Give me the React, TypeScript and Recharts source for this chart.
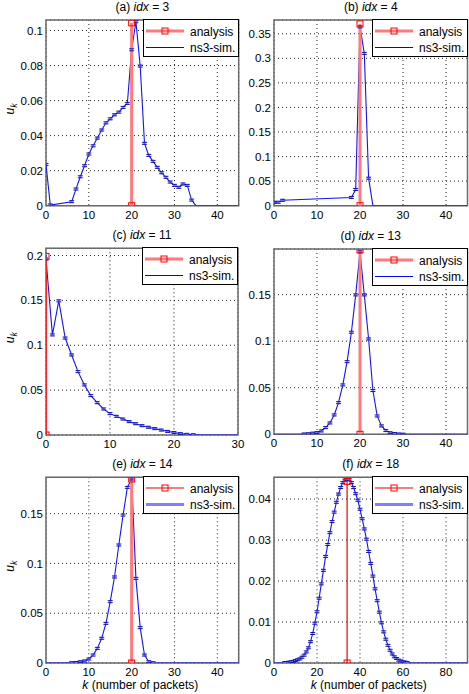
import { CartesianGrid, ComposedChart, Label, Legend, Line, ReferenceArea, XAxis, YAxis } from "recharts";

const FONT = '"Liberation Sans", Arial, Helvetica, sans-serif';

// ns3 simulation values u_k, index = k (null = no sample, line bridges it)
const simA = [
  0.0236, 0.0004, null, null, null, null, 0.0023, 0.0095, 0.0165, 0.0228,
  0.0295, 0.0342, 0.0386, 0.0432, 0.0473, 0.0496, 0.0519, 0.0534, 0.0561, 0.0584,
  0.089, 0.105, 0.0797, 0.0356, 0.0287, 0.0253, 0.0219, 0.0188, 0.0162, 0.0135,
  0.0116, 0.0105, 0.0124, 0.0116, 0.0032, 0, 0, 0, 0, 0, 0, 0, 0, 0, 0, 0,
];
const simB = [
  0.0068, 0.007, 0.011, null, null, null, null, null, null, null,
  null, null, null, null, null, null, null, null, 0.0168, 0.033,
  0.364, 0.31, 0.056, 0, 0, 0, 0, 0, 0, 0, 0, 0, 0, 0, 0, 0, 0, 0, 0, 0, 0, 0, 0, 0, 0, 0,
];
const simC = [
  0.196, 0.1115, 0.1494, 0.108, 0.0892, 0.0706, 0.0558, 0.0439, 0.036, 0.029,
  0.0238, 0.0208, 0.0178, 0.0149, 0.0126, 0.0104, 0.0086, 0.0071, 0.0055, 0.004,
  0.0027, 0.0015, 0.0007, 0.0003, 0, 0, 0, 0, 0, 0, 0,
];
const simD = [
  0, 0, 0, 0, 0, 0, 0, 0.0003, 0.0006, 0.0012,
  0.0018, 0.0036, 0.0072, 0.0122, 0.0208, 0.034, 0.053, 0.078, 0.1096, 0.1497,
  0.196, 0.1497, 0.1024, 0.047, 0.0197, 0.009, 0.004, 0.0017, 0.0008, 0.0003,
  0.0001, 0, 0, 0, 0, 0, 0, 0, 0, 0, 0, 0, 0, 0, 0, 0,
];
const simE = [
  0, 0, 0, 0, 0, 0, 0.0003, 0.0005, 0.0013, 0.002,
  0.004, 0.008, 0.0147, 0.0248, 0.0398, 0.0616, 0.0864, 0.1185, 0.1486, 0.1764,
  0.1848, 0.085, 0.0355, 0.008, 0.0013, 0.0003, 0, 0, 0, 0,
  0, 0, 0, 0, 0, 0, 0, 0, 0, 0, 0, 0, 0, 0, 0, 0,
];
const simF = [
  0, 0, 0, 0, 0, 0.0001, 0.0001, 0.0002, 0.0003, 0.0004,
  0.0006, 0.0008, 0.001, 0.0014, 0.0019, 0.0027, 0.0037, 0.0052, 0.0072, 0.0097,
  0.0125, 0.0158, 0.0193, 0.0226, 0.026, 0.0289, 0.0318, 0.0345, 0.0368, 0.0392,
  0.0412, 0.0428, 0.044, 0.0446, 0.0448, 0.0447, 0.044, 0.0428, 0.0413, 0.0397,
  0.0375, 0.0352, 0.0327, 0.0302, 0.0272, 0.0243, 0.0212, 0.0181, 0.0152, 0.0124,
  0.0098, 0.0076, 0.0058, 0.0043, 0.0031, 0.0022, 0.0015, 0.0011, 0.0007, 0.0005,
  0.0003, 0.0002, 0.0001, 0, 0, 0, 0, 0, 0, 0,
  0, 0, 0, 0, 0, 0, 0, 0, 0, 0,
  0, 0, 0, 0, 0, 0, 0, 0, 0, 0, 0,
];

// analysis: the single non-zero k and its value
const analysisK = [20, 20, 0, 20, 20, 34];
const analysisPeak = [0.1044, 0.37, 0.199, 0.198, 0.1848, 0.0443];

const panelTags = ["a", "b", "c", "d", "e", "f"];
const panelIdx = [3, 4, 11, 13, 14, 18];

const xTicks45 = [0, 10, 20, 30, 40];
const xTicksC = [0, 10, 20, 30];
const xTicksF = [0, 20, 40, 60, 80];
const yTicksA = [0, 0.02, 0.04, 0.06, 0.08, 0.1];
const yTicksB = [0, 0.05, 0.1, 0.15, 0.2, 0.25, 0.3, 0.35];
const yTicksC = [0, 0.05, 0.1, 0.15, 0.2];
const yTicksDE = [0, 0.05, 0.1, 0.15];
const yTicksF = [0, 0.01, 0.02, 0.03, 0.04];

type Stroke = { color: string; width: number };
type Plot = { x0: number; y0: number; x1: number; y1: number };

type PanelSpec = {
  i: number;
  box: { left: number; top: number; width: number; height: number };
  plot: Plot;
  xMax: number;
  xTicks: number[];
  yMax: number;
  yTicks: number[];
  sim: (number | null)[];
  ylabel: boolean;
  xlabel: boolean;
  analysisLine: Stroke;
  legendAnalysis: Stroke;
  legendSim: Stroke;
};

const thickRed = { color: "#ff7a7a", width: 3 };
const thinRed = { color: "#ee0000", width: 1.2 };
const thinBlue = { color: "#0000ff", width: 1 };
const thickBlue = { color: "#7f7fff", width: 3 };

// left column is wider than its plot so edge tick labels are not clipped
const left = { left: 0, width: 252 };
const right = { left: 234, width: 235 };

const panels: PanelSpec[] = [
  {
    i: 0, box: { ...left, top: 0, height: 225 }, plot: { x0: 46, y0: 20, x1: 238.7, y1: 205.7 },
    xMax: 45, xTicks: xTicks45, yMax: 0.106, yTicks: yTicksA, sim: simA, ylabel: true, xlabel: false,
    analysisLine: thickRed, legendAnalysis: thickRed, legendSim: thinBlue,
  },
  {
    i: 1, box: { ...right, top: 0, height: 225 }, plot: { x0: 274, y0: 20, x1: 467.5, y1: 205.7 },
    xMax: 45, xTicks: xTicks45, yMax: 0.378, yTicks: yTicksB, sim: simB, ylabel: false, xlabel: false,
    analysisLine: thickRed, legendAnalysis: thickRed, legendSim: thinBlue,
  },
  {
    i: 2, box: { ...left, top: 225, height: 230 }, plot: { x0: 46, y0: 248.3, x1: 238, y1: 435 },
    xMax: 30, xTicks: xTicksC, yMax: 0.208, yTicks: yTicksC, sim: simC, ylabel: true, xlabel: false,
    analysisLine: { color: "#ff2020", width: 2 }, legendAnalysis: thickRed, legendSim: thinBlue,
  },
  {
    i: 3, box: { ...right, top: 225, height: 230 }, plot: { x0: 274, y0: 249, x1: 467.5, y1: 434.3 },
    xMax: 45, xTicks: xTicks45, yMax: 0.199, yTicks: yTicksDE, sim: simD, ylabel: false, xlabel: false,
    analysisLine: thickRed, legendAnalysis: thickRed, legendSim: thinBlue,
  },
  {
    i: 4, box: { ...left, top: 455, height: 239 }, plot: { x0: 46, y0: 477.3, x1: 238.7, y1: 663 },
    xMax: 45, xTicks: xTicks45, yMax: 0.1865, yTicks: yTicksDE, sim: simE, ylabel: true, xlabel: true,
    analysisLine: thickRed, legendAnalysis: thinRed, legendSim: thickBlue,
  },
  {
    i: 5, box: { ...right, top: 455, height: 239 }, plot: { x0: 274, y0: 477.3, x1: 467.5, y1: 663 },
    xMax: 90, xTicks: xTicksF, yMax: 0.0453, yTicks: yTicksF, sim: simF, ylabel: false, xlabel: true,
    analysisLine: thinRed, legendAnalysis: thinRed, legendSim: thickBlue,
  },
];

function SimDot(props: any) {
  const { cx, cy, payload, index } = props;
  if (cx == null || cy == null || payload == null || !payload.v) return <g key={`s${index}`} />;
  return (
    <g key={`s${index}`}>
      <rect x={cx - 1.5} y={cy - 1.5} width={3} height={3} fill="#9090ff" opacity={0.8} />
      <line x1={cx - 2.5} x2={cx + 2.5} y1={cy - 1} y2={cy - 1} stroke="#0000aa" strokeWidth={0.9} />
      <line x1={cx - 2.5} x2={cx + 2.5} y1={cy + 1} y2={cy + 1} stroke="#0000aa" strokeWidth={0.9} />
    </g>
  );
}

function SquareDot(props: any) {
  const { cx, cy, index } = props;
  if (cx == null || cy == null) return <g key={`a${index}`} />;
  return (
    <rect key={`a${index}`} x={cx - 3} y={cy - 3} width={6} height={6} fill="none" stroke="#ff0000" strokeWidth={1} />
  );
}

function LegendBox({ spec }: { spec: PanelSpec }) {
  const a = spec.legendAnalysis;
  const s = spec.legendSim;
  return (
    <div style={{ width: 96, height: 38, border: "1px solid #000", background: "#fff", boxSizing: "border-box" }}>
      <svg width={94} height={36} style={{ display: "block" }}>
        <line x1={2} x2={40} y1={11} y2={11} stroke={a.color} strokeWidth={a.width} />
        <rect x={18} y={8} width={6} height={6} fill="none" stroke="#ff0000" strokeWidth={1} />
        <text x={46} y={15.5} fontSize={12} fontFamily={FONT} fill="#000">analysis</text>
        <line x1={2} x2={40} y1={27.5} y2={27.5} stroke={s.color} strokeWidth={s.width} />
        <text x={46} y={32} fontSize={12} fontFamily={FONT} fill="#000">ns3-sim.</text>
      </svg>
    </div>
  );
}

function Panel({ spec }: { spec: PanelSpec }) {
  const { box, plot } = spec;
  const simData = spec.sim.map((v, k) => ({ k, v }));
  const analysisData = [
    { k: analysisK[spec.i], v: 0 },
    { k: analysisK[spec.i], v: analysisPeak[spec.i] },
  ];
  const yAxisWidth = plot.x0 - box.left;
  const xAxisHeight = box.top + box.height - plot.y1;
  const tickStyle = { fontSize: 11.5, fill: "#000", fontFamily: FONT };

  return (
    <div style={{ position: "absolute", left: box.left, top: box.top, width: box.width, height: box.height }}>
      <div
        style={{
          position: "absolute",
          left: plot.x0 - box.left,
          width: plot.x1 - plot.x0,
          top: plot.y0 - box.top - 20,
          lineHeight: "14px",
          fontSize: 12,
          fontFamily: FONT,
          textAlign: "center",
          whiteSpace: "nowrap",
        }}
      >
        ({panelTags[spec.i]}) <i>idx</i> = {panelIdx[spec.i]}
      </div>
      <ComposedChart
        width={box.width}
        height={box.height}
        margin={{ top: plot.y0 - box.top, right: box.left + box.width - plot.x1, left: 0, bottom: 0 }}
        style={{ position: "absolute", left: 0, top: 0 }}
      >
        <CartesianGrid stroke="#222" strokeDasharray="1 3" strokeWidth={1} />
        <XAxis
          type="number"
          dataKey="k"
          domain={[0, spec.xMax]}
          ticks={spec.xTicks}
          allowDataOverflow
          interval={0}
          height={xAxisHeight}
          axisLine={false}
          tickLine={false}
          tickSize={0}
          tickMargin={5}
          tick={tickStyle}
        >
          {spec.xlabel && (
            <Label
              content={(p: any) => {
                const vb = p.viewBox || {};
                const cx = (vb.x ?? plot.x0 - box.left) + (vb.width ?? plot.x1 - plot.x0) / 2;
                const y = (vb.y ?? plot.y1 - box.top) + 26;
                return (
                  <text x={cx - 2} y={y} textAnchor="middle" fontSize={12} fontFamily={FONT} fill="#000">
                    <tspan fontStyle="italic">k</tspan> (number of packets)
                  </text>
                );
              }}
            />
          )}
        </XAxis>
        <YAxis
          type="number"
          domain={[0, spec.yMax]}
          ticks={spec.yTicks}
          allowDataOverflow
          interval={0}
          width={yAxisWidth}
          axisLine={false}
          tickLine={false}
          tickSize={0}
          tickMargin={3}
          tick={tickStyle}
          tickFormatter={(v: number) => String(v)}
        >
          {spec.ylabel && (
            <Label
              content={(p: any) => {
                const vb = p.viewBox || {};
                const cy = (vb.y ?? plot.y0 - box.top) + (vb.height ?? plot.y1 - plot.y0) / 2;
                return (
                  <text
                    transform={`translate(14, ${cy - 4}) rotate(-90)`}
                    textAnchor="middle"
                    fontSize={12}
                    fontFamily={FONT}
                    fontStyle="italic"
                    fill="#000"
                  >
                    u<tspan fontSize={9} dy={3}>k</tspan>
                  </text>
                );
              }}
            />
          )}
        </YAxis>
        <ReferenceArea x1={0} x2={spec.xMax} y1={0} y2={spec.yMax} fill="none" stroke="#6a6a6a" strokeWidth={1.5} />
        <Line
          data={simData}
          dataKey="v"
          type="linear"
          stroke="#1414f0"
          strokeWidth={1.1}
          connectNulls
          dot={SimDot}
          activeDot={false}
          isAnimationActive={false}
        />
        <Line
          data={analysisData}
          dataKey="v"
          type="linear"
          stroke={spec.analysisLine.color}
          strokeWidth={spec.analysisLine.width}
          dot={SquareDot}
          activeDot={false}
          isAnimationActive={false}
        />
        <Legend
          layout="horizontal"
          verticalAlign="middle"
          align="center"
          content={() => <LegendBox spec={spec} />}
          wrapperStyle={{
            left: plot.x1 - box.left - 96,
            top: plot.y0 - box.top - 1.5,
            width: 96,
            height: 38,
            right: "auto",
            bottom: "auto",
          }}
        />
      </ComposedChart>
    </div>
  );
}

export default function App() {
  return (
    <div style={{ position: "absolute", left: 0, top: 0, width: 469, height: 694, background: "#fff" }}>
      {panels.map((p) => (
        <Panel key={p.i} spec={p} />
      ))}
    </div>
  );
}
